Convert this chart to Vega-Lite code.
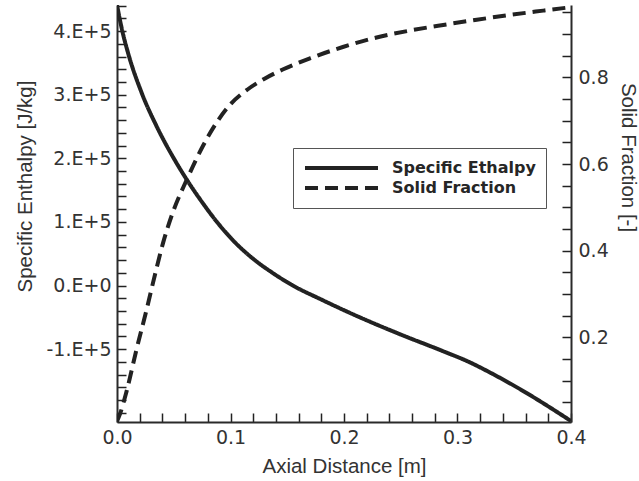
{
  "$schema": "https://vega.github.io/schema/vega-lite/v6.json",
  "width": 454,
  "height": 417,
  "autosize": {"type": "none"},
  "padding": {"left": 117, "top": 5, "right": 68, "bottom": 59},
  "background": "white",
  "config": {
    "view": {"stroke": null},
    "axis": {
      "labelFont": "DejaVu Sans",
      "labelFontSize": 19,
      "labelColor": "#333333",
      "titleFont": "Liberation Sans",
      "titleFontSize": 20.5,
      "titleFontWeight": "normal",
      "titleColor": "#333333",
      "domainColor": "#2a2a2a",
      "domainWidth": 2,
      "grid": false,
      "labelOverlap": false,
      "labelFlush": false
    }
  },
  "datasets": {
    "enthalpy": [
      {"series": "Specific Ethalpy", "x": 0.0, "y": 441000},
      {"series": "Specific Ethalpy", "x": 0.0047, "y": 400000},
      {"series": "Specific Ethalpy", "x": 0.01, "y": 364000},
      {"series": "Specific Ethalpy", "x": 0.0215, "y": 304000},
      {"series": "Specific Ethalpy", "x": 0.035, "y": 250000},
      {"series": "Specific Ethalpy", "x": 0.051, "y": 197000},
      {"series": "Specific Ethalpy", "x": 0.062, "y": 165000},
      {"series": "Specific Ethalpy", "x": 0.075, "y": 131000},
      {"series": "Specific Ethalpy", "x": 0.0876, "y": 101000},
      {"series": "Specific Ethalpy", "x": 0.105, "y": 66000},
      {"series": "Specific Ethalpy", "x": 0.12, "y": 42000},
      {"series": "Specific Ethalpy", "x": 0.137, "y": 20000},
      {"series": "Specific Ethalpy", "x": 0.155, "y": 0},
      {"series": "Specific Ethalpy", "x": 0.18, "y": -22000},
      {"series": "Specific Ethalpy", "x": 0.214, "y": -50000},
      {"series": "Specific Ethalpy", "x": 0.25, "y": -77000},
      {"series": "Specific Ethalpy", "x": 0.287, "y": -103000},
      {"series": "Specific Ethalpy", "x": 0.31, "y": -120000},
      {"series": "Specific Ethalpy", "x": 0.33, "y": -138000},
      {"series": "Specific Ethalpy", "x": 0.36, "y": -168000},
      {"series": "Specific Ethalpy", "x": 0.38, "y": -190000},
      {"series": "Specific Ethalpy", "x": 0.4, "y": -213000}
    ],
    "fraction": [
      {"series": "Solid Fraction", "x": 0.0, "y": 0.006},
      {"series": "Solid Fraction", "x": 0.0025, "y": 0.022},
      {"series": "Solid Fraction", "x": 0.0083, "y": 0.074},
      {"series": "Solid Fraction", "x": 0.0171, "y": 0.171},
      {"series": "Solid Fraction", "x": 0.026, "y": 0.263},
      {"series": "Solid Fraction", "x": 0.0335, "y": 0.345},
      {"series": "Solid Fraction", "x": 0.0406, "y": 0.418},
      {"series": "Solid Fraction", "x": 0.0494, "y": 0.49},
      {"series": "Solid Fraction", "x": 0.0617, "y": 0.565},
      {"series": "Solid Fraction", "x": 0.0758, "y": 0.642},
      {"series": "Solid Fraction", "x": 0.0876, "y": 0.695},
      {"series": "Solid Fraction", "x": 0.1, "y": 0.738},
      {"series": "Solid Fraction", "x": 0.115, "y": 0.772},
      {"series": "Solid Fraction", "x": 0.13, "y": 0.797},
      {"series": "Solid Fraction", "x": 0.146, "y": 0.818},
      {"series": "Solid Fraction", "x": 0.17, "y": 0.844},
      {"series": "Solid Fraction", "x": 0.199, "y": 0.870},
      {"series": "Solid Fraction", "x": 0.2287, "y": 0.892},
      {"series": "Solid Fraction", "x": 0.258, "y": 0.908},
      {"series": "Solid Fraction", "x": 0.2874, "y": 0.921},
      {"series": "Solid Fraction", "x": 0.317, "y": 0.933},
      {"series": "Solid Fraction", "x": 0.346, "y": 0.944},
      {"series": "Solid Fraction", "x": 0.3756, "y": 0.954},
      {"series": "Solid Fraction", "x": 0.4, "y": 0.962}
    ]
  },
  "encoding": {
    "x": {
      "field": "x", "type": "quantitative",
      "scale": {"domain": [0, 0.4], "nice": false},
      "axis": {
        "title": "Axial Distance [m]",
        "values": [0, 0.02, 0.04, 0.06, 0.08, 0.1, 0.12, 0.14, 0.16, 0.18, 0.2, 0.22, 0.24, 0.26, 0.28, 0.3, 0.32, 0.34, 0.36, 0.38, 0.4],
        "labelExpr": "abs(datum.value*10 - round(datum.value*10)) < 0.001 ? format(datum.value, '.1f') : ''",
        "ticks": true,
        "tickColor": "#222222",
        "tickWidth": 1.5,
        "tickSize": -9,
        "labelPadding": 15,
        "titleY": 44,
        "titleBaseline": "middle"
      }
    }
  },
  "layer": [
    {
      "data": {"name": "enthalpy"},
      "mark": {"type": "line", "interpolate": "monotone", "strokeWidth": 4, "color": "#222222", "clip": true},
      "encoding": {
        "y": {
          "field": "y", "type": "quantitative",
          "scale": {"domain": [-214500, 441000], "nice": false, "zero": false},
          "axis": {
            "title": "Specific Enthalpy [J/kg]",
            "orient": "left",
            "values": [-200000, -180000, -160000, -140000, -120000, -100000, -80000, -60000, -40000, -20000, 0, 20000, 40000, 60000, 80000, 100000, 120000, 140000, 160000, 180000, 200000, 220000, 240000, 260000, 280000, 300000, 320000, 340000, 360000, 380000, 400000, 420000, 440000],
            "labelExpr": "datum.value % 100000 == 0 && datum.value > -150000 ? (datum.value == 0 ? '0.E+0' : (datum.value/100000) + '.E+5') : ''",
            "ticks": true,
            "tickColor": "#222222",
            "tickWidth": 1.5,
            "tickSize": -9,
            "labelPadding": 15,
            "titleX": -92,
            "titleY": 181,
            "titleBaseline": "middle",
            "titleAngle": -90
          }
        },
        "strokeDash": {
          "field": "series", "type": "nominal",
          "scale": {"domain": ["Specific Ethalpy", "Solid Fraction"], "range": [[1, 0], [13, 7]]},
          "legend": {
            "title": null,
            "orient": "none",
            "legendX": 176,
            "legendY": 143,
            "direction": "vertical",
            "symbolType": "stroke",
            "symbolSize": 5329,
            "symbolStrokeWidth": 4,
            "symbolStrokeColor": "#222222",
            "clipHeight": 20,
            "rowPadding": 0,
            "labelFont": "DejaVu Sans",
            "labelFontSize": 16,
            "labelFontWeight": "bold",
            "labelColor": "#262626",
            "labelOffset": 12,
            "padding": 10,
            "strokeColor": "#555555",
            "fillColor": "white"
          }
        }
      }
    },
    {
      "data": {"name": "fraction"},
      "mark": {"type": "line", "interpolate": "monotone", "strokeWidth": 4, "color": "#222222", "clip": true},
      "encoding": {
        "y": {
          "field": "y", "type": "quantitative",
          "scale": {"domain": [0.0045, 0.967], "nice": false, "zero": false},
          "axis": {
            "title": "Solid Fraction [-]",
            "orient": "right",
            "values": [0.05, 0.1, 0.15, 0.2, 0.25, 0.3, 0.35, 0.4, 0.45, 0.5, 0.55, 0.6, 0.65, 0.7, 0.75, 0.8, 0.85, 0.9, 0.95],
            "labelExpr": "abs(datum.value*5 - round(datum.value*5)) < 0.001 ? format(datum.value, '.1f') : ''",
            "ticks": true,
            "tickColor": "#222222",
            "tickWidth": 1.5,
            "tickSize": -9,
            "labelPadding": 16,
            "titleX": 56,
            "titleY": 152,
            "titleAngle": 90,
            "titleBaseline": "middle"
          }
        },
        "strokeDash": {"field": "series", "type": "nominal"}
      }
    }
  ],
  "resolve": {"scale": {"y": "independent"}}
}
